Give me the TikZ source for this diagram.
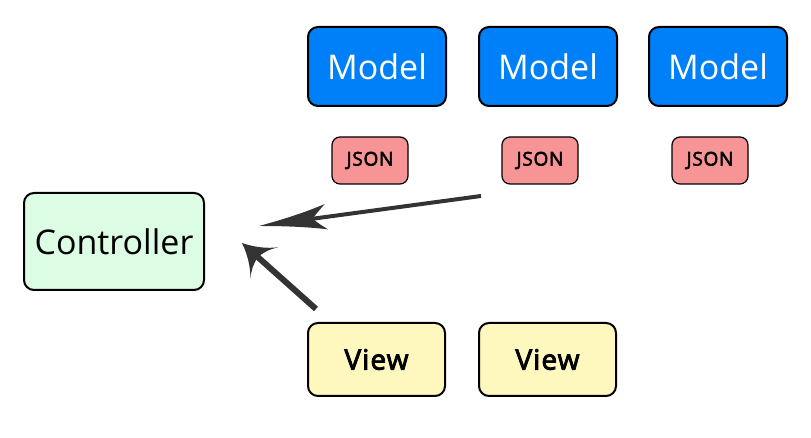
\documentclass[tikz,border=0pt]{standalone}
\usepackage{fontspec}
\setmainfont{Open Sans}
\newfontfamily\semib{Open Sans}[FakeBold=3, LetterSpace=4]
\usetikzlibrary{calc}
\definecolor{modelblue}{HTML}{0080F8}
\definecolor{jsonred}{HTML}{F79495}
\definecolor{ctrlgreen}{HTML}{DCFCE4}
\definecolor{viewyellow}{HTML}{FFF8BE}
\definecolor{arrowgray}{HTML}{333333}
\tikzset{
  box/.style={draw=black, line width=2pt, rounded corners=10pt, inner sep=0pt},
  modelbox/.style={box, fill=modelblue, text=white, minimum width=138pt, minimum height=79pt, font=\fontsize{34}{36}\selectfont},
  jsonbox/.style={box, line width=1.2pt, rounded corners=8pt, fill=jsonred, minimum width=76pt, minimum height=47pt, font=\semib\fontsize{19}{20}\selectfont},
  ctrlbox/.style={box, fill=ctrlgreen, minimum width=180pt, minimum height=97pt, font=\fontsize{34}{36}\selectfont},
  viewbox/.style={box, fill=viewyellow, minimum width=137pt, minimum height=73pt, font=\semib\fontsize{28}{30}\selectfont},
  arrline/.style={draw=arrowgray},
  arrhead/.style={fill=arrowgray},
}
\begin{document}
\begin{tikzpicture}[x=1pt,y=1pt]
\useasboundingbox (0,0) rectangle (811,438);
\node[modelbox] (m1) at (377,{438-66.5}) {Model};
\node[modelbox] (m2) at (548,{438-66.5}) {Model};
\node[modelbox] (m3) at (718,{438-66.5}) {Model};
\node[jsonbox] (j1) at (370,{438-160.5}) {JSON};
\node[jsonbox] (j2) at (540,{438-160.5}) {JSON};
\node[jsonbox] (j3) at (710,{438-160.5}) {JSON};
\node[ctrlbox] (c) at (114,{438-241.5}) {Controller};
\node[viewbox] (v1) at (376.5,{438-359.5}) {View};
\node[viewbox] (v2) at (547.5,{438-359.5}) {View};
\coordinate (a1s) at (481,{438-196});
\coordinate (a1e) at (259,{438-226});
\coordinate (a2s) at (316,{438-309});
\coordinate (a2e) at (242,{438-243});
% arrow 1
\draw[arrline, line width=4pt] (a1s) -- ($(a1e)!0.22!(a1s)$);
\begin{scope}[shift={(a1e)}, rotate=7.66]
  \fill[arrhead] (0,0) .. controls (30,4) and (50,8) .. (68,13)
    .. controls (60,6) .. (54,0)
    .. controls (60,-6) .. (68,-12.5)
    .. controls (50,-8) and (30,-4) .. (0,0) -- cycle;
\end{scope}
% arrow 2
\draw[arrline, line width=6pt] (a2s) -- ($(a2e)!0.2!(a2s)$);
\begin{scope}[shift={(a2e)}, rotate=-41.7]
  \fill[arrhead] (0,0) .. controls (12,5) and (22,12) .. (30,21)
    .. controls (24,12) .. (21,0)
    .. controls (24,-12) .. (30,-21)
    .. controls (22,-12) and (12,-5) .. (0,0) -- cycle;
\end{scope}
\end{tikzpicture}
\end{document}
